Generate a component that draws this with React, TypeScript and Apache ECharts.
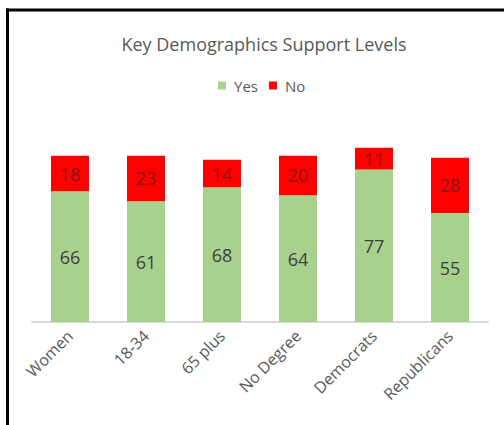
import React, { useEffect, useRef } from "react";
import * as echarts from "echarts";

const categories = ["Women", "18-34", "65 plus", "No Degree", "Democrats", "Republicans"];
const yesValues = [66, 61, 68, 64, 77, 55];
const noValues = [18, 23, 14, 20, 11, 28];

export default function App() {
  const ref = useRef<HTMLDivElement>(null);
  useEffect(() => {
    if (!ref.current) return;
    const chart = echarts.init(ref.current, null, { renderer: "svg" });
    const font = "'Open Sans', sans-serif";
    chart.setOption({
      animation: false,
      backgroundColor: "#ffffff",
      title: {
        text: "Key Demographics Support Levels",
        left: 259,
        textAlign: "center",
        top: 30,
        textStyle: { fontFamily: font, fontSize: 18, fontWeight: "normal", color: "#595959" },
      },
      legend: {
        data: ["Yes", "No"],
        left: 213,
        top: 73,
        itemWidth: 8,
        itemHeight: 8,
        itemGap: 11,
        icon: "rect",
        textStyle: { fontFamily: font, fontSize: 15, color: "#595959", padding: [0, 0, 0, 3] },
      },
      grid: { left: 32, right: 16, top: 124, bottom: 103, containLabel: false },
      xAxis: {
        type: "category",
        data: categories,
        axisLine: { lineStyle: { color: "#d9d9d9", width: 2 } },
        axisTick: { show: false },
        axisLabel: {
          rotate: 45,
          margin: 11,
          fontFamily: font,
          fontSize: 16,
          color: "#595959",
          interval: 0,
        },
      },
      yAxis: {
        type: "value",
        min: 0,
        max: 100,
        show: false,
        splitLine: { show: false },
      },
      series: [
        {
          name: "Yes",
          type: "bar",
          stack: "total",
          data: yesValues,
          barWidth: 38,
          itemStyle: { color: "#a9d18e" },
          label: {
            show: true,
            position: "inside",
            fontFamily: font,
            fontSize: 18,
            color: "#404040",
          },
        },
        {
          name: "No",
          type: "bar",
          stack: "total",
          data: noValues,
          barWidth: 38,
          itemStyle: { color: "#ff0000" },
          label: {
            show: true,
            position: "inside",
            fontFamily: font,
            fontSize: 18,
            color: "#8a1414",
          },
        },
      ],
      graphic: [
        {
          type: "line",
          shape: { x1: 7.5, y1: 8.5, x2: 7.5, y2: 430 },
          style: { stroke: "#000000", lineWidth: 3 },
          silent: true,
        },
        {
          type: "line",
          shape: { x1: 6, y1: 10, x2: 504, y2: 10 },
          style: { stroke: "#000000", lineWidth: 3 },
          silent: true,
        },
      ],
    });
    return () => chart.dispose();
  }, []);
  return (
    <div
      ref={ref}
      style={{ position: "fixed", left: 0, top: 0, width: 504, height: 425 }}
    />
  );
}
